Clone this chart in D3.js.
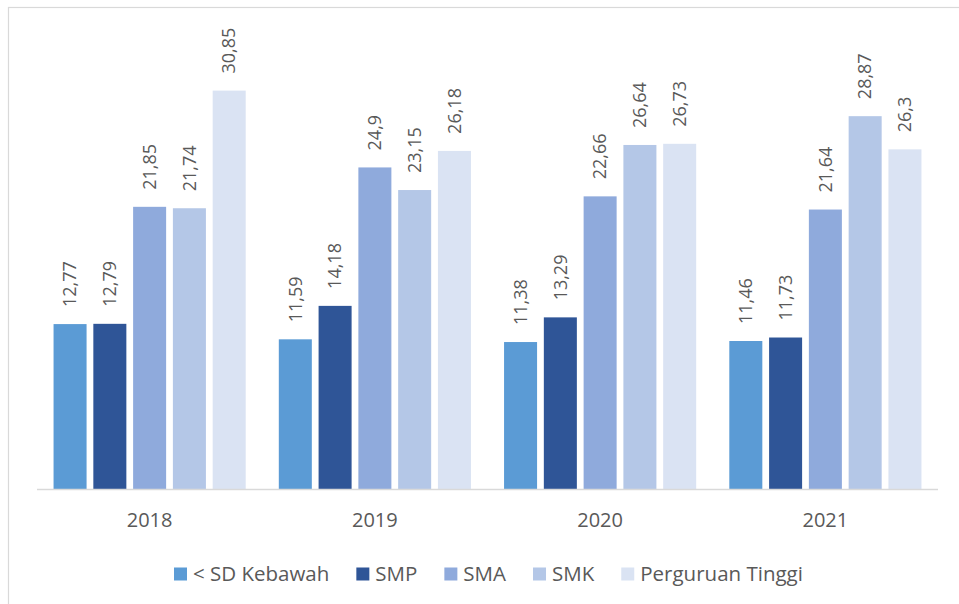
<!DOCTYPE html>
<html>
<head>
<meta charset="utf-8">
<script src="https://cdn.jsdelivr.net/npm/d3@7"></script>
<style>
  html, body { margin: 0; padding: 0; background: #fff; }
  svg { display: block; }
  text { font-family: "Open Sans", "Noto Sans", sans-serif; fill: #595959; }
</style>
</head>
<body>
<svg id="chart" width="959" height="604"></svg>
<script>
// Years on the category axis
const years = ["2018", "2019", "2020", "2021"];
// Education levels (series)
const levels = ["< SD Kebawah", "SMP", "SMA", "SMK", "Perguruan Tinggi"];
const colors = ["#5B9BD5", "#2F5597", "#8FAADC", "#B4C7E7", "#DAE3F3"];
// Values per level, one entry per year
const sdKebawah = [12.77, 11.59, 11.38, 11.46];
const smp = [12.79, 14.18, 13.29, 11.73];
const sma = [21.85, 24.9, 22.66, 21.64];
const smk = [21.74, 23.15, 26.64, 28.87];
const perguruanTinggi = [30.85, 26.18, 26.73, 26.3];
const seriesValues = [sdKebawah, smp, sma, smk, perguruanTinggi];

const fmt = v => String(v).replace(".", ",");

const svg = d3.select("#chart");

// Chart frame
svg.append("rect")
  .attr("x", 8.5).attr("y", 7.5)
  .attr("width", 1000).attr("height", 1000)
  .attr("fill", "none").attr("stroke", "#D9D9D9").attr("stroke-width", 1.2);

const plot = { left: 37, right: 938, top: 37, bottom: 489 };

const x0 = d3.scaleBand()
  .domain(years)
  .range([plot.left, plot.right])
  .paddingInner(0.147)
  .paddingOuter(0.0735);

const x1 = d3.scaleBand()
  .domain(levels)
  .range([0, x0.bandwidth()])
  .paddingInner(0.17)
  .paddingOuter(0);

const y = d3.scaleLinear().domain([0, 35]).range([plot.bottom, plot.top]);

const rows = [];
years.forEach((yr, i) => {
  levels.forEach((lv, j) => {
    rows.push({ year: yr, level: lv, value: seriesValues[j][i], color: colors[j] });
  });
});

const g = svg.append("g");

g.selectAll("rect.bar")
  .data(rows)
  .join("rect")
  .attr("class", "bar")
  .attr("x", d => x0(d.year) + x1(d.level))
  .attr("y", d => y(d.value))
  .attr("width", x1.bandwidth())
  .attr("height", d => y(0) - y(d.value))
  .attr("fill", d => d.color);

// Value labels, rotated, above each bar
g.selectAll("text.val")
  .data(rows)
  .join("text")
  .attr("class", "val")
  .attr("transform", d => {
    const cx = x0(d.year) + x1(d.level) + x1.bandwidth() / 2;
    return `translate(${cx},${y(d.value) - 17}) rotate(-90)`;
  })
  .attr("dy", "0.35em")
  .attr("text-anchor", "start")
  .style("font-size", "18px")
  .text(d => fmt(d.value));

// Category axis
const xAxis = svg.append("g").attr("transform", `translate(0,${plot.bottom})`);
xAxis.append("line")
  .attr("x1", plot.left).attr("x2", plot.right)
  .attr("y1", 0.5).attr("y2", 0.5)
  .attr("stroke", "#D9D9D9").attr("stroke-width", 1.5);
xAxis.selectAll("text")
  .data(years)
  .join("text")
  .attr("x", d => x0(d) + x0.bandwidth() / 2)
  .attr("y", 38)
  .attr("text-anchor", "middle")
  .style("font-size", "20px")
  .text(d => d);

// Legend
const legend = svg.append("g");
let lx = 174;
levels.forEach((lv, j) => {
  legend.append("rect")
    .attr("x", lx).attr("y", 567.5)
    .attr("width", 13).attr("height", 13)
    .attr("fill", colors[j]);
  const t = legend.append("text")
    .attr("x", lx + 19).attr("y", 581)
    .style("font-size", "20.5px")
    .text(lv);
  lx += 19 + t.node().getComputedTextLength() + 27;
});
</script>
</body>
</html>
